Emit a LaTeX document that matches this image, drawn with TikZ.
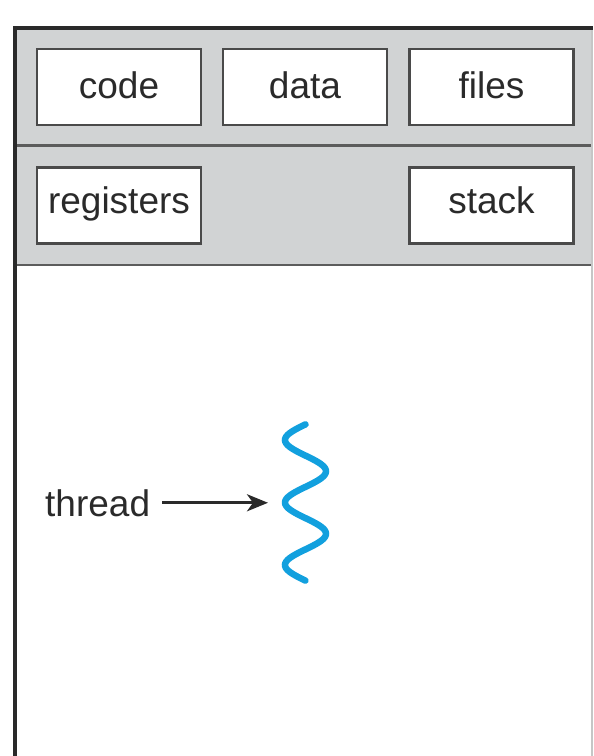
\documentclass[tikz,border=0pt]{standalone}
\usepackage{fontspec}
\setmainfont{Liberation Sans}
\usetikzlibrary{arrows.meta}
\definecolor{bandgray}{HTML}{D1D3D4}
\definecolor{boxedge}{HTML}{4A4A4A}
\definecolor{inkgray}{HTML}{2A2A2A}
\definecolor{threadblue}{HTML}{12A0DE}
\tikzset{
  seg/.style={draw=boxedge, line width=2.8pt, fill=white, minimum width=164pt,
    minimum height=76pt, inner sep=0pt, text=inkgray, text depth=0pt,
    font=\fontsize{37}{44}\selectfont},
  toprow/.style={seg, text height=22pt},
  midrow/.style={seg, text height=16pt},
  label/.style={text=inkgray, font=\fontsize{37}{44}\selectfont, inner sep=0pt},
  divider/.style={draw=boxedge!90, line width=2.4pt},
  pointer/.style={draw=inkgray, line width=3pt,
    -{Stealth[length=21pt,width=17pt,inset=6pt]}},
  wave/.style={draw=threadblue, line width=6.5pt, line cap=round}
}
\begin{document}
\begin{tikzpicture}[x=1pt,y=-1pt]
  \useasboundingbox (0,0) rectangle (594,756);
  % shared and per-thread bands
  \fill[bandgray] (15,28) rectangle (592,265);
  \draw[divider] (15,145.5) -- (592,145.5);
  \draw[divider] (15,265) -- (592,265);
  % process frame
  \draw[draw=gray!45, line width=1.5pt] (592,28) -- (592,756);
  \draw[draw=inkgray, line width=3.5pt] (15,757) -- (15,28) -- (593,28);
  % shared resources
  \node[toprow] (code) at (119,87) {code};
  \node[toprow] (data) at (305,87) {data};
  \node[toprow] (files) at (491.5,87) {files};
  % thread-private resources
  \node[midrow] (registers) at (119,205.5) {registers};
  \node[midrow] (stack) at (491.5,205.5) {stack};
  % the thread itself
  \draw[wave] plot[domain=-0.5:4.5, samples=120, smooth]
    ({305.5 - 20.5*cos(180*\x)}, {440 + 31.25*\x});
  \node[label, anchor=base west] (thread) at (45,516) {thread};
  \coordinate (tip) at (268,503);
  \draw[pointer] ([xshift=12pt]thread.east) -- (thread.east -| tip);
\end{tikzpicture}
\end{document}
